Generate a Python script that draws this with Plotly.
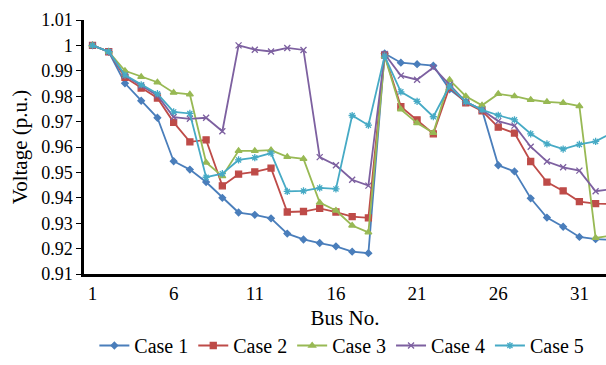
import plotly.graph_objects as go

buses = list(range(1, 34))
case1 = [1.0, 0.9975, 0.9851, 0.9782, 0.9715, 0.9544, 0.9511, 0.9462, 0.9400, 0.9342, 0.9333,
         0.9319, 0.9259, 0.9236, 0.9222, 0.9209, 0.9188, 0.9182, 0.9968, 0.9932, 0.9926, 0.9920,
         0.9827, 0.9778, 0.9746, 0.9528, 0.9504, 0.9398, 0.9322, 0.9286, 0.9246, 0.9237, 0.9234]
case2 = [1.0, 0.9975, 0.9874, 0.9832, 0.9793, 0.9697, 0.9620, 0.9628, 0.9447, 0.9493, 0.9502,
         0.9517, 0.9344, 0.9346, 0.9358, 0.9344, 0.9326, 0.9321, 0.9962, 0.9759, 0.9707, 0.9652,
         0.9836, 0.9774, 0.9742, 0.9678, 0.9655, 0.9543, 0.9462, 0.9427, 0.9385, 0.9377, 0.9376]
case3 = [1.0, 0.9975, 0.9900, 0.9876, 0.9855, 0.9814, 0.9807, 0.9539, 0.9485, 0.9585, 0.9585,
         0.9588, 0.9561, 0.9553, 0.9381, 0.9350, 0.9291, 0.9264, 0.9958, 0.9748, 0.9694, 0.9656,
         0.9864, 0.9800, 0.9764, 0.9809, 0.9800, 0.9786, 0.9778, 0.9774, 0.9761, 0.9242, 0.9252]
case4 = [1.0, 0.9975, 0.9881, 0.9842, 0.9803, 0.9718, 0.9711, 0.9715, 0.9662, 1.0000, 0.9983,
         0.9976, 0.9990, 0.9982, 0.9560, 0.9528, 0.9471, 0.9448, 0.9966, 0.9881, 0.9865, 0.9913,
         0.9845, 0.9778, 0.9746, 0.9702, 0.9684, 0.9601, 0.9543, 0.9520, 0.9507, 0.9426, 0.9434]
case5 = [1.0, 0.9975, 0.9883, 0.9845, 0.9810, 0.9738, 0.9732, 0.9481, 0.9495, 0.9549, 0.9558,
         0.9576, 0.9425, 0.9427, 0.9439, 0.9435, 0.9724, 0.9686, 0.9958, 0.9817, 0.9780, 0.9719,
         0.9840, 0.9778, 0.9746, 0.9725, 0.9707, 0.9652, 0.9612, 0.9592, 0.9610, 0.9622, 0.9655]

series_names = ["Case 1", "Case 2", "Case 3", "Case 4", "Case 5"]
x_tickvals = [1, 6, 11, 16, 21, 26, 31]
y_tickvals = [0.91, 0.92, 0.93, 0.94, 0.95, 0.96, 0.97, 0.98, 0.99, 1.0, 1.01]
y_ticktext = ["0.91", "0.92", "0.93", "0.94", "0.95", "0.96", "0.97", "0.98", "0.99", "1", "1.01"]

colors = ["#4A7EBB", "#BE4B48", "#98B954", "#7D60A0", "#46AAC5"]
symbols = ["diamond", "square", "triangle-up", "x-thin-open", "asterisk-open"]
sizes = [5, 6, 6, 6, 6]

fig = go.Figure()
for name, vals, c, s, sz in zip(series_names, [case1, case2, case3, case4, case5], colors, symbols, sizes):
    fig.add_trace(go.Scatter(
        x=buses, y=vals, name=name, mode="lines+markers",
        line=dict(color=c, width=1.8),
        marker=dict(symbol=s, size=sz, color=c, line=dict(color=c, width=1.3)),
    ))

font_family = "'Times New Roman', 'Liberation Serif', Times, serif"
fig.update_layout(
    width=606, height=365,
    margin=dict(l=84, r=0, t=20, b=86),
    paper_bgcolor="white", plot_bgcolor="white",
    font=dict(family=font_family, color="black", size=18),
    showlegend=True,
    legend=dict(orientation="h", x=0.494, xanchor="center", y=-0.282, yanchor="middle",
                font=dict(size=20, family=font_family), itemwidth=30, tracegroupgap=0),
    xaxis=dict(
        range=[0.476, 32.64], tickvals=x_tickvals, showgrid=False, zeroline=False,
        showline=True, linecolor="black", linewidth=2.5, ticks="",
        tickfont=dict(size=19), title=dict(text="Bus No.", font=dict(size=21), standoff=8),
    ),
    yaxis=dict(
        range=[0.91, 1.01], tickvals=y_tickvals, ticktext=y_ticktext, showgrid=False,
        zeroline=False, showline=True, linecolor="black", linewidth=2.5,
        ticks="outside", ticklen=5, tickcolor="black", tickwidth=1,
        tickfont=dict(size=18), title=dict(text="Voltage (p.u.)", font=dict(size=21), standoff=8),
    ),
)

fig.write_html("out.html")
